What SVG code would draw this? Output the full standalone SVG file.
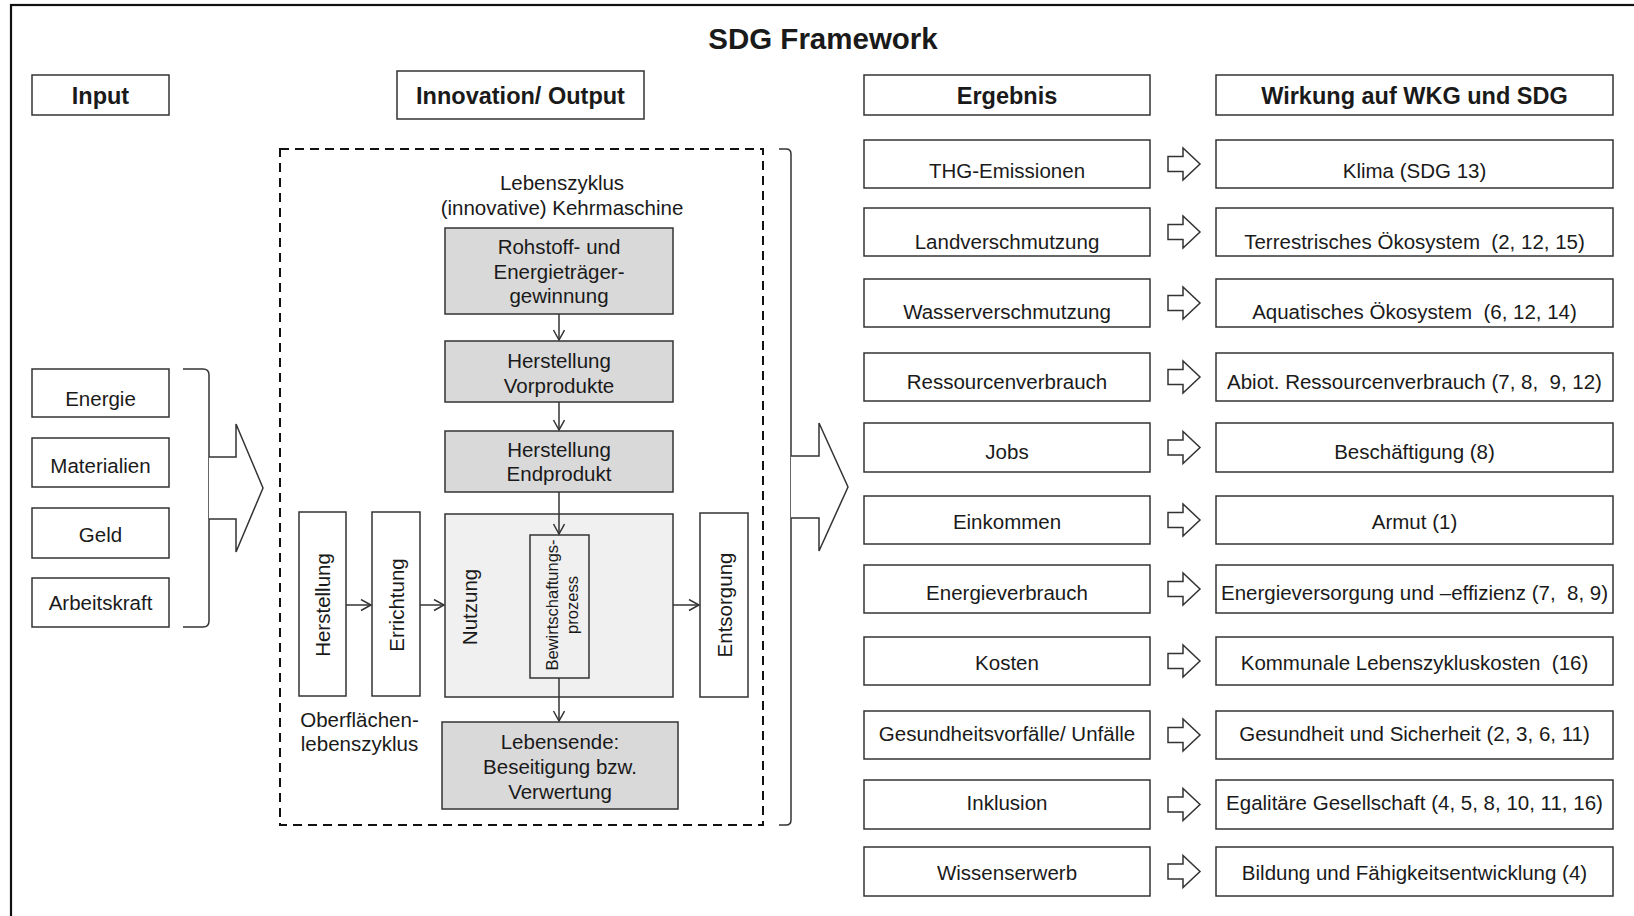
<svg xmlns="http://www.w3.org/2000/svg" width="1634" height="916" viewBox="0 0 1634 916">
<defs>
<style>
text{font-family:"Liberation Sans",Arial,sans-serif;fill:#1a1a1a;font-size:20.5px}
.b{font-weight:bold}
.h{font-size:23.5px;font-weight:bold}
.c{text-anchor:middle}
.box{fill:#fff;stroke:#333;stroke-width:1.5}
.g{fill:#d9d9d9;stroke:#333;stroke-width:1.5}
.lg{fill:#f0f0f0;stroke:#333;stroke-width:1.5}
.ln{fill:none;stroke:#333;stroke-width:1.5}
.blk{fill:#fff;stroke:#333;stroke-width:1.5;stroke-linejoin:miter}
.sm{font-size:16.5px}
</style>
<marker id="ah" markerUnits="userSpaceOnUse" markerWidth="14" markerHeight="14" refX="11" refY="6" orient="auto">
<path d="M1,0.5 L11,6 L1,11.5" fill="none" stroke="#333" stroke-width="1.5"/>
</marker>
<path id="barrow" d="M0,-7.5 L15,-7.5 L15,-16 L32,0 L15,16 L15,7.5 L0,7.5 Z" class="blk"/>
</defs>
<rect width="1634" height="916" fill="#fff"/>
<rect x="11" y="5" width="1640" height="930" fill="none" stroke="#111" stroke-width="2.2"/>
<text class="c b" x="823" y="49" style="font-size:29.5px">SDG Framework</text>

<g id="hdr-input"><rect class="box" x="32" y="75" width="137" height="40"/><text class="c h" x="100.5" y="103.5">Input</text></g>
<g id="hdr-innov"><rect class="box" x="397" y="71" width="247" height="48"/><text class="c h" x="520.5" y="103.5">Innovation/ Output</text></g>
<g id="hdr-ergebnis"><rect class="box" x="864" y="75" width="286" height="40"/><text class="c h" x="1007" y="103.5">Ergebnis</text></g>
<g id="hdr-wirkung"><rect class="box" x="1216" y="75" width="397" height="40"/><text class="c h" x="1414.5" y="103.5">Wirkung auf WKG und SDG</text></g>

<g id="in-energie"><rect class="box" x="32" y="369" width="137" height="48"/><text class="c" x="100.5" y="406">Energie</text></g>
<g id="in-materialien"><rect class="box" x="32" y="438" width="137" height="49"/><text class="c" x="100.5" y="473">Materialien</text></g>
<g id="in-geld"><rect class="box" x="32" y="508" width="137" height="50"/><text class="c" x="100.5" y="542">Geld</text></g>
<g id="in-arbeitskraft"><rect class="box" x="32" y="578" width="137" height="49"/><text class="c" x="100.5" y="610">Arbeitskraft</text></g>

<g id="lifecycle-frame">
<rect x="280" y="149" width="483" height="676" fill="none" stroke="#111" stroke-width="2" stroke-dasharray="9 6"/>
<text class="c" x="562" y="190">Lebenszyklus</text>
<text class="c" x="562" y="215">(innovative) Kehrmaschine</text>
<text class="c" x="359.5" y="727">Oberflächen-</text>
<text class="c" x="359.5" y="751">lebenszyklus</text>
</g>

<g id="rohstoff"><rect class="g" x="445" y="228" width="228" height="86"/><text class="c" x="559" y="254">Rohstoff- und</text><text class="c" x="559" y="278.5">Energieträger-</text><text class="c" x="559" y="303">gewinnung</text></g>
<g id="vorprodukte"><rect class="g" x="445" y="341" width="228" height="61"/><text class="c" x="559" y="368">Herstellung</text><text class="c" x="559" y="393">Vorprodukte</text></g>
<g id="endprodukt"><rect class="g" x="445" y="431" width="228" height="61"/><text class="c" x="559" y="457">Herstellung</text><text class="c" x="559" y="481">Endprodukt</text></g>
<g id="nutzung"><rect class="lg" x="445" y="514" width="228" height="183"/><text class="c" transform="translate(477,607) rotate(-90)">Nutzung</text></g>
<g id="bewirtschaftung"><rect class="lg" x="530" y="535" width="59" height="143"/><text class="c sm" transform="translate(558,605) rotate(-90)">Bewirtschaftungs-</text><text class="c sm" transform="translate(577.5,605) rotate(-90)">prozess</text></g>
<g id="herstellung"><rect class="box" x="299" y="512" width="47" height="184"/><text class="c" transform="translate(330,605) rotate(-90)">Herstellung</text></g>
<g id="errichtung"><rect class="box" x="372" y="512" width="48" height="184"/><text class="c" transform="translate(403.5,605) rotate(-90)">Errichtung</text></g>
<g id="entsorgung"><rect class="box" x="700" y="513" width="48" height="184"/><text class="c" transform="translate(731.5,605) rotate(-90)">Entsorgung</text></g>
<g id="lebensende"><rect class="g" x="442" y="722" width="236" height="87"/><text class="c" x="560" y="749">Lebensende:</text><text class="c" x="560" y="774">Beseitigung bzw.</text><text class="c" x="560" y="799">Verwertung</text></g>

<g id="erg-1"><rect class="box" x="864" y="140" width="286" height="48"/><text class="c" x="1007" y="178">THG-Emissionen</text></g>
<g id="erg-2"><rect class="box" x="864" y="208" width="286" height="48"/><text class="c" x="1007" y="249">Landverschmutzung</text></g>
<g id="erg-3"><rect class="box" x="864" y="279" width="286" height="48"/><text class="c" x="1007" y="319">Wasserverschmutzung</text></g>
<g id="erg-4"><rect class="box" x="864" y="353" width="286" height="48"/><text class="c" x="1007" y="389">Ressourcenverbrauch</text></g>
<g id="erg-5"><rect class="box" x="864" y="423" width="286" height="49"/><text class="c" x="1007" y="459">Jobs</text></g>
<g id="erg-6"><rect class="box" x="864" y="496" width="286" height="48"/><text class="c" x="1007" y="529">Einkommen</text></g>
<g id="erg-7"><rect class="box" x="864" y="565" width="286" height="48"/><text class="c" x="1007" y="600">Energieverbrauch</text></g>
<g id="erg-8"><rect class="box" x="864" y="637" width="286" height="48"/><text class="c" x="1007" y="670">Kosten</text></g>
<g id="erg-9"><rect class="box" x="864" y="711" width="286" height="48"/><text class="c" x="1007" y="741">Gesundheitsvorfälle/ Unfälle</text></g>
<g id="erg-10"><rect class="box" x="864" y="780" width="286" height="49"/><text class="c" x="1007" y="810">Inklusion</text></g>
<g id="erg-11"><rect class="box" x="864" y="847" width="286" height="49"/><text class="c" x="1007" y="880">Wissenserwerb</text></g>

<g id="wir-1"><rect class="box" x="1216" y="140" width="397" height="48"/><text class="c" x="1414.5" y="178" xml:space="preserve">Klima (SDG 13)</text></g>
<g id="wir-2"><rect class="box" x="1216" y="208" width="397" height="48"/><text class="c" x="1414.5" y="249" xml:space="preserve">Terrestrisches Ökosystem  (2, 12, 15)</text></g>
<g id="wir-3"><rect class="box" x="1216" y="279" width="397" height="48"/><text class="c" x="1414.5" y="319" xml:space="preserve">Aquatisches Ökosystem  (6, 12, 14)</text></g>
<g id="wir-4"><rect class="box" x="1216" y="353" width="397" height="48"/><text class="c" x="1414.5" y="389" xml:space="preserve">Abiot. Ressourcenverbrauch (7, 8,  9, 12)</text></g>
<g id="wir-5"><rect class="box" x="1216" y="423" width="397" height="49"/><text class="c" x="1414.5" y="459" xml:space="preserve">Beschäftigung (8)</text></g>
<g id="wir-6"><rect class="box" x="1216" y="496" width="397" height="48"/><text class="c" x="1414.5" y="529" xml:space="preserve">Armut (1)</text></g>
<g id="wir-7"><rect class="box" x="1216" y="565" width="397" height="48"/><text class="c" x="1414.5" y="600" xml:space="preserve">Energieversorgung und –effizienz (7,  8, 9)</text></g>
<g id="wir-8"><rect class="box" x="1216" y="637" width="397" height="48"/><text class="c" x="1414.5" y="670" xml:space="preserve">Kommunale Lebenszykluskosten  (16)</text></g>
<g id="wir-9"><rect class="box" x="1216" y="711" width="397" height="48"/><text class="c" x="1414.5" y="741" xml:space="preserve">Gesundheit und Sicherheit (2, 3, 6, 11)</text></g>
<g id="wir-10"><rect class="box" x="1216" y="780" width="397" height="49"/><text class="c" x="1414.5" y="810" xml:space="preserve">Egalitäre Gesellschaft (4, 5, 8, 10, 11, 16)</text></g>
<g id="wir-11"><rect class="box" x="1216" y="847" width="397" height="49"/><text class="c" x="1414.5" y="880" xml:space="preserve">Bildung und Fähigkeitsentwicklung (4)</text></g>

<g id="connectors">
<path class="ln" d="M183,369 L203,369 Q209,369 209,375 L209,621 Q209,627 203,627 L183,627"/>
<path class="blk" d="M209,457 L236,457 L236,424 L263,488 L236,552 L236,519 L209,519"/>
<path class="ln" d="M779,149 L786,149 Q791,149 791,154 L791,820 Q791,825 786,825 L779,825"/>
<path class="blk" d="M791,456 L819,456 L819,423 L848,487 L819,551 L819,518 L791,518"/>
<line class="ln" x1="559" y1="314" x2="559" y2="340" marker-end="url(#ah)"/>
<line class="ln" x1="559" y1="402" x2="559" y2="430" marker-end="url(#ah)"/>
<line class="ln" x1="559" y1="492" x2="559" y2="534" marker-end="url(#ah)"/>
<line class="ln" x1="559" y1="678" x2="559" y2="721" marker-end="url(#ah)"/>
<line class="ln" x1="346" y1="605" x2="371" y2="605" marker-end="url(#ah)"/>
<line class="ln" x1="420" y1="605" x2="444" y2="605" marker-end="url(#ah)"/>
<line class="ln" x1="673" y1="605" x2="699" y2="605" marker-end="url(#ah)"/>
<use href="#barrow" x="1168" y="164"/>
<use href="#barrow" x="1168" y="232"/>
<use href="#barrow" x="1168" y="303"/>
<use href="#barrow" x="1168" y="377"/>
<use href="#barrow" x="1168" y="447.5"/>
<use href="#barrow" x="1168" y="520"/>
<use href="#barrow" x="1168" y="589"/>
<use href="#barrow" x="1168" y="661"/>
<use href="#barrow" x="1168" y="735"/>
<use href="#barrow" x="1168" y="804.5"/>
<use href="#barrow" x="1168" y="871.5"/>
</g>
</svg>
